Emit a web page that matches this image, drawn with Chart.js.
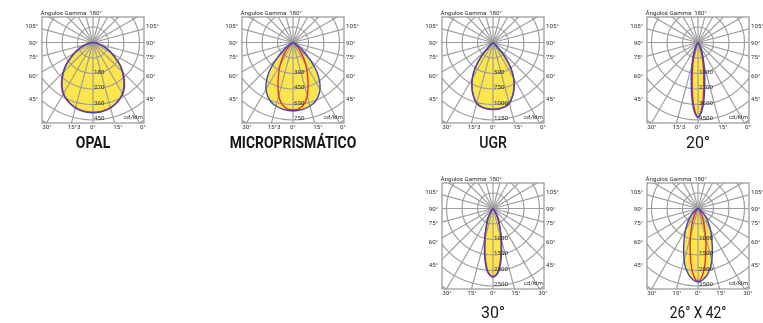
<!DOCTYPE html>
<html><head><meta charset="utf-8">
<script src="https://cdn.jsdelivr.net/npm/chart.js@4.4.1/dist/chart.umd.min.js"></script>
<style>
html,body{margin:0;padding:0;background:#fff;}
body{width:763px;height:323px;position:relative;overflow:hidden;}
canvas{position:absolute;}
.t{position:absolute;font-family:Roboto,"Liberation Sans",sans-serif;color:#161616;font-size:16px;line-height:16px;white-space:nowrap;}
</style></head><body>
<script>
// ---- data ----
const GAMMA_WIDE = [0,5,10,15,20,25,30,35,40,45,50,55,60,65,70,75,80,85,90];
const GAMMA_NARROW = [0,2.5,5,7.5,10,12.5,15,17.5,20,22.5,25,27.5,30,35,40,45,50,60,70,80,90];

const OPAL_TICKS = [180,270,360,450];
const OPAL_RED  = [405,404,399,391,380,365,346,318,283,246,208,165,128,96,64,37,17,6,0];
const OPAL_BLUE = [408,407,402,393,380,363,342,313,278,241,204,160,124,93,62,36,16,6,0];

const MICRO_TICKS = [300,450,600,750];
const MICRO_RED  = [651,644,608,534,426,327,247,174,111,63,24,8,3,0,0,0,0,0,0];
const MICRO_BLUE = [661,658,650,636,615,576,523,445,348,227,136,68,29,12,5,2,0,0,0];

const UGR_TICKS = [500,750,1000,1250];
const UGR_RED  = [1082,1078,1060,1018,922,805,664,498,284,55,14,5,2,0,0,0,0,0,0];
const UGR_BLUE = [1075,1071,1054,1012,918,803,666,503,289,58,15,5,2,0,0,0,0,0,0];

const B20_TICKS = [1800,2700,3600,4500];
const B20_RED  = [4340,4010,3350,2556,1887,1394,1034,750,518,345,215,140,88,36,18,10,5,0,0,0,0];
const B20_BLUE = [4355,4099,3594,2900,2249,1735,1347,1049,803,581,424,290,200,90,40,20,10,3,0,0,0];

const B30_TICKS = [1000,1500,2000,2500];
const B30_RED  = [2200,2150,2010,1760,1480,1200,970,780,620,490,390,310,210,90,35,15,8,0,0,0,0];
const B30_BLUE = [2210,2165,2050,1830,1556,1283,1050,850,653,543,432,326,227,100,40,20,10,0,0,0,0];

const B2642_TICKS = [1000,1500,2000,2500];
const B2642_RED  = [2355,2253,2052,1757,1431,1183,935,736,592,447,340,270,210,130,75,40,20,5,0,0,0];
const B2642_BLUE = [2371,2340,2267,2184,2048,1912,1725,1532,1357,1186,1039,926,812,609,447,300,190,60,15,0,0];

const SIDE_LABELS = ['105°','90°','75°','60°','45°'];
const TOP_ROW_BOTTOM_LABELS = ['30°','15°3','0°','15°','0°'];
const BOTTOM_ROW_BOTTOM_LABELS = ['30°','15°','0°','15°','30°'];
const TITLES = ['OPAL','MICROPRISMÁTICO','UGR','20°','30°','26° X 42°'];
const UNIT_LABEL = 'cd/klm';
const TOP_LEFT_LABEL = 'Ángulos Gamma';
const TOP_CENTER_LABEL = '180°';

// ---- layout ----
const PX_STEP = 15.5;     // px per ring
const BOX_HALF_W = 51, BOX_UP = 25.5, BOX_DOWN = 80.5;
const PAD_X = 44, PAD_Y = 17;
const SIDE_OFFSETS = [-16.5, 0.5, 15, 33.5, 57];
const BOTTOM_OFFSETS = [-46, -19, 0, 25, 50];
const BOTTOM_OFFSETS2 = [-46, -21, 0, 23, 50];

const DIAGRAMS = [
  {cx:93,  cy:42.5, ty:100.8, g:GAMMA_WIDE,   ticks:OPAL_TICKS,  red:OPAL_RED,  blue:OPAL_BLUE,  bl:TOP_ROW_BOTTOM_LABELS, bo:BOTTOM_OFFSETS, title:0, tstyle:{w:700,s:0.87}},
  {cx:293, cy:42.5, ty:100.8, g:GAMMA_WIDE,   ticks:MICRO_TICKS, red:MICRO_RED, blue:MICRO_BLUE, bl:TOP_ROW_BOTTOM_LABELS, bo:BOTTOM_OFFSETS, title:1, tstyle:{w:700,s:0.87}},
  {cx:493, cy:42.5, ty:100.8, g:GAMMA_WIDE,   ticks:UGR_TICKS,   red:UGR_RED,   blue:UGR_BLUE,   bl:TOP_ROW_BOTTOM_LABELS, bo:BOTTOM_OFFSETS, title:2, tstyle:{w:500,s:0.88}},
  {cx:698, cy:42.5, ty:100.8, g:GAMMA_NARROW, ticks:B20_TICKS,   red:B20_RED,   blue:B20_BLUE,   bl:TOP_ROW_BOTTOM_LABELS, bo:BOTTOM_OFFSETS, title:3, tstyle:{w:400,s:1.0}},
  {cx:493, cy:208.5,ty:104.8, g:GAMMA_NARROW, ticks:B30_TICKS,   red:B30_RED,   blue:B30_BLUE,   bl:BOTTOM_ROW_BOTTOM_LABELS, bo:BOTTOM_OFFSETS2, title:4, tstyle:{w:400,s:1.0}},
  {cx:698, cy:208.5,ty:104.8, g:GAMMA_NARROW, ticks:B2642_TICKS, red:B2642_RED, blue:B2642_BLUE, bl:BOTTOM_ROW_BOTTOM_LABELS, bo:BOTTOM_OFFSETS2, title:5, tstyle:{w:400,s:0.86}}
];

const RED = '#e4322b', BLUE = '#3b48b8', YELLOW = '#fde64c', GRID = '#9c9c9c', TXT = '#2e2e2e';

function polarCurve(gammas, values) {
  const left = [], right = [];
  for (let i = 0; i < gammas.length; i++) {
    const a = gammas[i] * Math.PI / 180, v = values[i];
    left.unshift({x: -v * Math.sin(a), y: -v * Math.cos(a)});
    right.push({x: v * Math.sin(a), y: -v * Math.cos(a)});
    if (v === 0) break;
  }
  return left.concat(right.slice(1));
}

const polarGrid = {
  id: 'polarGrid',
  beforeDatasetsDraw(chart, args, opts) {
    const {ctx, chartArea: a, scales: {x, y}} = chart;
    const ox = x.getPixelForValue(0), oy = y.getPixelForValue(0);
    ctx.save();
    ctx.beginPath(); ctx.rect(a.left, a.top, a.right - a.left, a.bottom - a.top); ctx.clip();
    ctx.strokeStyle = GRID; ctx.lineWidth = 1.15;
    for (let k = 1; k <= 8; k++) {
      const r = x.getPixelForValue(k * opts.step) - ox;
      ctx.beginPath(); ctx.arc(ox, oy, r, 0, Math.PI * 2); ctx.stroke();
    }
    for (let d = 0; d < 360; d += 15) {
      const t = d * Math.PI / 180;
      ctx.beginPath(); ctx.moveTo(ox, oy);
      ctx.lineTo(ox + 300 * Math.sin(t), oy + 300 * Math.cos(t)); ctx.stroke();
    }
    ctx.restore();
    ctx.save();
    ctx.strokeStyle = '#969696'; ctx.lineWidth = 1.2;
    ctx.strokeRect(a.left, a.top, a.right - a.left, a.bottom - a.top);
    ctx.restore();
  },
  afterDatasetsDraw(chart, args, opts) {
    const {ctx, chartArea: a, scales: {x, y}} = chart;
    const ox = x.getPixelForValue(0), oy = y.getPixelForValue(0);
    ctx.save();
    ctx.fillStyle = TXT;
    ctx.font = '6.2px Roboto, "Liberation Sans", sans-serif';
    ctx.textBaseline = 'middle';
    ctx.textAlign = 'left';
    opts.ticks.forEach(v => ctx.fillText(String(v), ox + 1, y.getPixelForValue(-v) - 1.5));
    SIDE_LABELS.forEach((s, i) => {
      ctx.textAlign = 'right'; ctx.fillText(s, a.left - 4, oy + SIDE_OFFSETS[i]);
      ctx.textAlign = 'left'; ctx.fillText(s, a.right + 2, oy + SIDE_OFFSETS[i]);
    });
    ctx.textAlign = 'center';
    opts.bottom.forEach((s, i) => ctx.fillText(s, ox + opts.boff[i], a.bottom + 4.5));
    ctx.textAlign = 'left'; ctx.fillText(TOP_LEFT_LABEL, a.left - 1.5, a.top - 4);
    ctx.textAlign = 'center'; ctx.fillText(TOP_CENTER_LABEL, ox + 2.5, a.top - 4);
    ctx.textAlign = 'right'; ctx.fillText(UNIT_LABEL, a.right - 1, oy + 75);
    ctx.restore();
  }
};

DIAGRAMS.forEach(d => {
  const step = d.ticks[1] - d.ticks[0];
  const u = step / PX_STEP;
  const cv = document.createElement('canvas');
  const W = 2 * BOX_HALF_W + 2 * PAD_X, H = BOX_UP + BOX_DOWN + 2 * PAD_Y;
  cv.width = W; cv.height = H;
  cv.style.left = (d.cx - BOX_HALF_W - PAD_X) + 'px';
  cv.style.top = (d.cy - BOX_UP - PAD_Y) + 'px';
  document.body.appendChild(cv);
  new Chart(cv, {
    type: 'scatter',
    data: {datasets: [
      {data: polarCurve(d.g, d.blue), showLine: true, borderColor: BLUE, borderWidth: 1.4, backgroundColor: YELLOW, fill: 'shape', pointRadius: 0, tension: 0.3},
      {data: polarCurve(d.g, d.red), showLine: true, borderColor: RED, borderWidth: 1.4, backgroundColor: YELLOW, fill: 'shape', pointRadius: 0, tension: 0.3}
    ]},
    options: {
      responsive: false, animation: false, events: [],
      layout: {padding: {left: PAD_X, right: PAD_X, top: PAD_Y, bottom: PAD_Y}},
      scales: {
        x: {type: 'linear', display: false, min: -BOX_HALF_W * u, max: BOX_HALF_W * u},
        y: {type: 'linear', display: false, min: -BOX_DOWN * u, max: BOX_UP * u}
      },
      plugins: {
        legend: {display: false}, tooltip: {enabled: false},
        filler: {drawTime: 'beforeDatasetsDraw'},
        polarGrid: {step: step, ticks: d.ticks, bottom: d.bl, boff: d.bo}
      }
    },
    plugins: [polarGrid]
  });
  const t = document.createElement('div');
  t.className = 't';
  t.textContent = TITLES[d.title];
  t.style.fontWeight = d.tstyle.w;
  t.style.left = d.cx + 'px';
  t.style.top = (d.cy + d.ty) + 'px';
  t.style.transform = 'translate(-50%,-50%) scaleX(' + d.tstyle.s + ')';
  document.body.appendChild(t);
});
</script>
</body></html>
